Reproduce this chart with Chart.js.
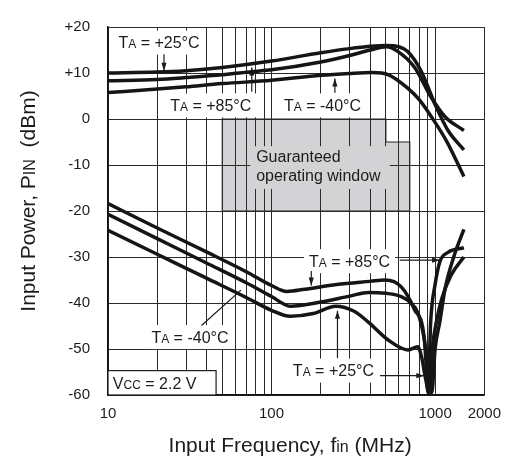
<!DOCTYPE html>
<html>
<head>
<meta charset="utf-8">
<script src="https://cdn.jsdelivr.net/npm/chart.js@4.4.0/dist/chart.umd.min.js"></script>
<style>
  html, body { margin: 0; padding: 0; background: #fff; }
</style>
</head>
<body>
<canvas id="myChart" width="511" height="457"></canvas>
<script>
// eixo x (MHz) - linhas de grade e rotulos
var xGridValues = [10, 20, 30, 40, 50, 60, 70, 80, 90, 100, 200, 300, 400, 500, 600, 700, 800, 900, 1000, 2000];
var xTickLabels = ['10', '', '', '', '', '', '', '', '', '100', '', '', '', '', '', '', '', '', '1000', '2000'];
var yTickValues = [-60, -50, -40, -30, -20, -10, 0, 10, 20];

// curvas superiores (potencia maxima)
var freqHi25 = [10, 20, 30, 50, 100, 200, 300, 400, 500, 600, 680, 820, 1010, 1200, 1500];
var pinHi25  = [10, 10.2, 10.5, 11.2, 12.6, 14.4, 15.3, 15.8, 16, 15.7, 14.7, 10.5, 2.8, -2.5, -6.7];
var freqHi85 = [10, 20, 30, 50, 76, 100, 200, 300, 400, 505, 591, 750, 940, 1150, 1500];
var pinHi85  = [8.3, 8.6, 9, 9.6, 10.3, 10.7, 12.4, 13.8, 15, 15.7, 14.7, 11.2, 4.9, 0.5, -2.5];
var freqHiM40 = [10, 20, 30, 50, 100, 200, 300, 411, 520, 680, 800, 940, 1180, 1500];
var pinHiM40  = [5.75, 6.5, 7, 7.7, 8.4, 9.5, 9.9, 10.1, 9.6, 6.7, 4.2, 0.7, -4.9, -12.5];

// curvas inferiores (sensibilidade)
var freqLo85 = [10, 20, 40, 70, 100, 124, 160, 250, 400, 495, 621, 748, 859, 880, 905, 940, 1000, 1070, 1200, 1500];
var pinLo85  = [-18.4, -23.7, -28.9, -33.2, -36.2, -37.5, -37, -36, -35.3, -35, -36.5, -41.4, -47.7, -53, -59.5, -44, -36, -31, -29, -28];
var freqLoM40 = [10, 20, 40, 70, 100, 130, 200, 300, 392, 500, 621, 700, 783, 850, 900, 955, 1000, 1070, 1150, 1300, 1500];
var pinLoM40  = [-20.7, -26, -31.3, -35.6, -38.6, -40.7, -39.8, -38.5, -37.7, -37.9, -38.6, -39.8, -42.1, -47, -53, -59.5, -50, -44, -37, -30, -24];
var freqLo25 = [10, 20, 40, 70, 100, 130, 180, 247, 320, 392, 519, 683, 783, 830, 870, 920, 960, 1020, 1100, 1250, 1500];
var pinLo25  = [-24.2, -29.4, -34.6, -38.8, -41.6, -42.9, -42.3, -40.7, -41.8, -44.2, -48.1, -50.2, -49.5, -52, -56, -59.5, -50, -44, -39, -34, -30];

var FONT = '"Liberation Sans", Arial, Helvetica, sans-serif';
var INK = '#1c1c1c';

function pontos(fs, ps) {
    return fs.map(function (f, i) { return { x: f, y: ps[i] }; });
}

function curva(fs, ps) {
    return {
        data: pontos(fs, ps),
        borderColor: '#151515',
        borderWidth: 3.5,
        pointRadius: 0,
        cubicInterpolationMode: 'monotone',
        fill: false
    };
}

// texto com partes em tamanhos diferentes (subscritos tipo T A)
function larguraRica(ctx, partes) {
    var w = 0;
    partes.forEach(function (p) {
        ctx.font = p[1] + 'px ' + FONT;
        w += ctx.measureText(p[0]).width;
    });
    return w;
}

function textoRico(ctx, partes, x, yMeio, alinhar) {
    var w = larguraRica(ctx, partes);
    var cx = alinhar === 'center' ? x - w / 2 : x;
    var base = yMeio + partes[0][1] * 0.36;
    ctx.fillStyle = INK;
    ctx.textAlign = 'left';
    ctx.textBaseline = 'alphabetic';
    partes.forEach(function (p) {
        ctx.font = p[1] + 'px ' + FONT;
        ctx.fillText(p[0], cx, base);
        cx += ctx.measureText(p[0]).width;
    });
}

function ta(resto) {
    return [['T', 16], ['A', 12], [resto, 16]];
}

function seta(ctx, x1, y1, x2, y2, cabeca) {
    ctx.strokeStyle = INK;
    ctx.fillStyle = INK;
    ctx.lineWidth = 1.2;
    ctx.beginPath();
    ctx.moveTo(x1, y1);
    ctx.lineTo(x2, y2);
    ctx.stroke();
    if (!cabeca) return;
    var a = Math.atan2(y2 - y1, x2 - x1);
    ctx.beginPath();
    ctx.moveTo(x2, y2);
    ctx.lineTo(x2 - 8 * Math.cos(a) + 2.6 * Math.sin(a), y2 - 8 * Math.sin(a) - 2.6 * Math.cos(a));
    ctx.lineTo(x2 - 8 * Math.cos(a) - 2.6 * Math.sin(a), y2 - 8 * Math.sin(a) + 2.6 * Math.cos(a));
    ctx.closePath();
    ctx.fill();
}

// rotulos das curvas: [freq, dBm do centro, texto]
var rotulos = [
    [20.5, 16.6, ' = +25°C'],
    [42.5, 2.95, ' = +85°C'],
    [205, 2.95, ' = -40°C'],
    [300, -30.9, ' = +85°C'],
    [31.7, -47.4, ' = -40°C'],
    [239, -54.7, ' = +25°C']
];
// setas: [f1, y1, f2, y2, com cabeca]
var setas = [
    [22, 14.1, 22, 10.5, true],
    [75.7, 5.9, 75.7, 11.2, true],
    [244, 5.7, 244, 8.8, true],
    [175, -33.05, 175, -36.2, true],
    [608, -30.7, 1072, -30.7, true],
    [37.3, -44.9, 65, -37.2, false],
    [253, -52, 253, -41.7, true],
    [461, -55.8, 859, -55.8, true]
];

var anotacoes = {
    id: 'anotacoes',
    beforeDraw: function (chart) {
        var ctx = chart.ctx, x = chart.scales.x, y = chart.scales.y;
        // janela garantida (fica por baixo da grade)
        ctx.save();
        ctx.beginPath();
        ctx.moveTo(x.getPixelForValue(50), y.getPixelForValue(0));
        ctx.lineTo(x.getPixelForValue(500), y.getPixelForValue(0));
        ctx.lineTo(x.getPixelForValue(500), y.getPixelForValue(-5));
        ctx.lineTo(x.getPixelForValue(700), y.getPixelForValue(-5));
        ctx.lineTo(x.getPixelForValue(700), y.getPixelForValue(-20));
        ctx.lineTo(x.getPixelForValue(50), y.getPixelForValue(-20));
        ctx.closePath();
        ctx.fillStyle = '#d3d3d5';
        ctx.fill();
        ctx.strokeStyle = '#222';
        ctx.lineWidth = 1.2;
        ctx.stroke();
        ctx.restore();
    },
    beforeDatasetsDraw: function (chart) {
        var ctx = chart.ctx, x = chart.scales.x, y = chart.scales.y;
        ctx.save();

        // fundo cinza do texto da janela
        var gx1 = x.getPixelForValue(74.2), gx2 = x.getPixelForValue(529);
        var gy1 = y.getPixelForValue(-5.9), gy2 = y.getPixelForValue(-15.2);
        ctx.fillStyle = '#d3d3d5';
        ctx.fillRect(gx1, gy1, gx2 - gx1, gy2 - gy1);
        var tx = x.getPixelForValue(80.5);
        textoRico(ctx, [['Guaranteed', 16]], tx, y.getPixelForValue(-8.2), 'left');
        textoRico(ctx, [['operating window', 16]], tx, y.getPixelForValue(-12.2), 'left');

        // rotulos com fundo branco
        rotulos.forEach(function (r) {
            var partes = ta(r[2]);
            var cx = x.getPixelForValue(r[0]), cy = y.getPixelForValue(r[1]);
            var w = larguraRica(ctx, partes);
            ctx.fillStyle = '#fff';
            ctx.fillRect(cx - w / 2 - 5, cy - 12, w + 10, 24);
            textoRico(ctx, partes, cx, cy, 'center');
        });

        setas.forEach(function (s) {
            seta(ctx, x.getPixelForValue(s[0]), y.getPixelForValue(s[1]),
                x.getPixelForValue(s[2]), y.getPixelForValue(s[3]), s[4]);
        });

        // caixa Vcc
        var bx1 = x.getPixelForValue(10), bx2 = x.getPixelForValue(45.8);
        var by1 = y.getPixelForValue(-54.7), by2 = y.getPixelForValue(-60);
        ctx.fillStyle = '#fff';
        ctx.fillRect(bx1, by1, bx2 - bx1, by2 - by1);
        ctx.strokeStyle = INK;
        ctx.lineWidth = 1.2;
        ctx.strokeRect(bx1, by1, bx2 - bx1, by2 - by1);
        textoRico(ctx, [['V', 16], ['CC', 12], [' = 2.2 V', 16]], x.getPixelForValue(10.7), y.getPixelForValue(-57.5), 'left');

        // titulos dos eixos
        var area = chart.chartArea;
        textoRico(ctx, [['Input Frequency, f', 21], ['in', 16], [' (MHz)', 21]], (area.left + area.right) / 2 - 6, 444, 'center');
        ctx.save();
        ctx.translate(27, (area.top + area.bottom) / 2 - 10);
        ctx.rotate(-Math.PI / 2);
        textoRico(ctx, [['Input Power, P', 21], ['IN', 16], ['  (dBm)', 21]], 0, 0, 'center');
        ctx.restore();

        ctx.restore();
    }
};

var ctx = document.getElementById('myChart').getContext('2d');
var myChart = new Chart(ctx, {
    type: 'line',
    data: {
        datasets: [
            curva(freqHi25, pinHi25),
            curva(freqHi85, pinHi85),
            curva(freqHiM40, pinHiM40),
            curva(freqLo85, pinLo85),
            curva(freqLoM40, pinLoM40),
            curva(freqLo25, pinLo25)
        ]
    },
    options: {
        responsive: false,
        animation: false,
        layout: { padding: { top: 15, right: 20, left: 0, bottom: 0 } },
        plugins: { legend: { display: false }, tooltip: { enabled: false } },
        scales: {
            x: {
                type: 'logarithmic',
                min: 10,
                max: 2000,
                afterBuildTicks: function (s) {
                    s.ticks = xGridValues.map(function (v) { return { value: v }; });
                },
                afterFit: function (s) { s.height = 62; },
                ticks: {
                    autoSkip: false,
                    maxRotation: 0,
                    padding: 10,
                    color: INK,
                    font: { family: FONT, size: 15 },
                    callback: function (v, i) { return xTickLabels[i]; }
                },
                grid: { color: '#2a2a2a', lineWidth: 1, drawTicks: false },
                border: { color: '#111', width: 1.5 }
            },
            y: {
                min: -60,
                max: 20,
                afterBuildTicks: function (s) {
                    s.ticks = yTickValues.map(function (v) { return { value: v }; });
                },
                afterFit: function (s) { s.width = 108; },
                ticks: {
                    padding: 18,
                    color: INK,
                    font: { family: FONT, size: 15 },
                    callback: function (v) { return v > 0 ? '+' + v : '' + v; }
                },
                grid: { color: '#2a2a2a', lineWidth: 1, drawTicks: false },
                border: { color: '#111', width: 1.5 }
            }
        }
    },
    plugins: [anotacoes]
});
</script>
</body>
</html>
